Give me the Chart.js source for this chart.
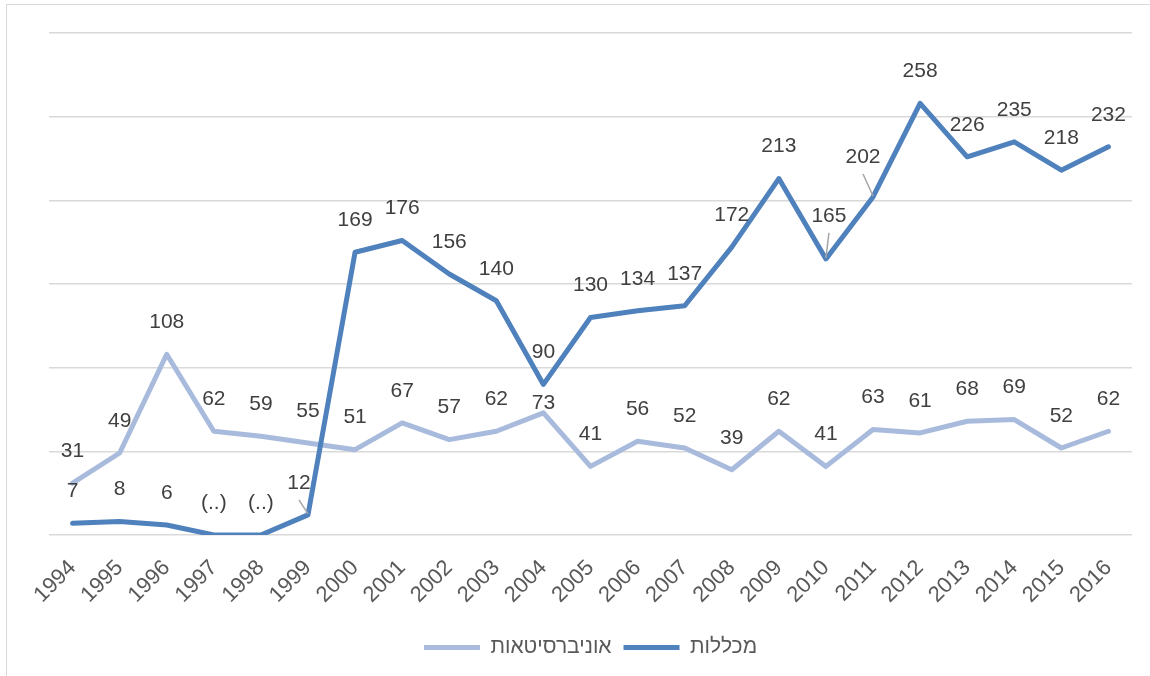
<!DOCTYPE html>
<html lang="he">
<head>
  <meta charset="UTF-8">
  <title>מכללות ואוניברסיטאות</title>
  <script src="https://cdn.jsdelivr.net/npm/chart.js"></script>
  <style>
    body { margin: 0; background: #fff; }
    #wrap { width: 1150px; height: 676px; }
  </style>
</head>
<body>
  <div id="wrap"><canvas id="lineChart"></canvas></div>
  <script>
    const years = ['1994', '1995', '1996', '1997', '1998', '1999', '2000', '2001', '2002', '2003', '2004', '2005',
                   '2006', '2007', '2008', '2009', '2010', '2011', '2012', '2013', '2014', '2015', '2016'];
    const universities = [31, 49, 108, 62, 59, 55, 51, 67, 57, 62, 73, 41, 56, 52, 39, 62, 41, 63, 61, 68, 69, 52, 62];
    const colleges = [7, 8, 6, 0, 0, 12, 169, 176, 156, 140, 90, 130, 134, 137, 172, 213, 165, 202, 258, 226, 235, 218, 232];
    const missingYears = ['1997', '1998'];   // shown as "(..)" in the source
    const yTicks = [0, 50, 100, 150, 200, 250, 300];

    const FONT = '"Liberation Sans", "DejaVu Sans", sans-serif';

    // labels that were moved by hand in the original, [dx, dy] from the point
    const labelShift = {
      'col:1999': [-9, -32],
      'col:2010': [3, -43],
      'col:2011': [-10, -40],
      'uni:2004': [0, -10]
    };
    const leaderLines = ['col:1999', 'col:2010', 'col:2011'];

    const valueLabels = {
      id: 'valueLabels',
      afterDatasetsDraw(chart) {
        const ctx = chart.ctx;
        ctx.save();
        ctx.font = '21px ' + FONT;
        ctx.textAlign = 'center';
        ctx.textBaseline = 'middle';
        chart.data.datasets.forEach((ds, di) => {
          const meta = chart.getDatasetMeta(di);
          meta.data.forEach((pt, i) => {
            const key = ds.key + ':' + years[i];
            const s = labelShift[key] || [0, -32];
            const lx = pt.x + s[0], ly = pt.y + s[1];
            if (leaderLines.includes(key)) {
              ctx.strokeStyle = '#a6a6a6';
              ctx.lineWidth = 1.5;
              ctx.beginPath();
              ctx.moveTo(lx, ly + 17);
              ctx.lineTo(pt.x, pt.y - 1);
              ctx.stroke();
            }
            let txt = String(ds.data[i]);
            if (ds.key === 'col' && missingYears.includes(years[i])) txt = '(..)';
            ctx.fillStyle = '#404040';
            ctx.fillText(txt, lx, ly);
          });
        });
        ctx.restore();
      }
    };

    const frame = {
      id: 'frame',
      beforeDraw(chart) {
        const ctx = chart.ctx;
        ctx.save();
        ctx.strokeStyle = '#d9d9d9';
        ctx.lineWidth = 1;
        ctx.strokeRect(6.5, 4.5, 1200, 700);
        ctx.restore();
      }
    };

    const ctx = document.getElementById('lineChart').getContext('2d');
    new Chart(ctx, {
      type: 'line',
      data: {
        labels: years,
        datasets: [
          {
            key: 'col',
            label: 'מכללות',
            data: colleges,
            borderColor: '#4f81bd',
            backgroundColor: '#4f81bd',
            borderWidth: 5,
            borderCapStyle: 'round',
            borderJoinStyle: 'round',
            pointRadius: 0,
            tension: 0
          },
          {
            key: 'uni',
            label: 'אוניברסיטאות',
            data: universities,
            borderColor: '#a9bbdc',
            backgroundColor: '#a9bbdc',
            borderWidth: 5,
            borderCapStyle: 'round',
            borderJoinStyle: 'round',
            pointRadius: 0,
            tension: 0
          }
        ]
      },
      options: {
        responsive: true,
        maintainAspectRatio: false,
        animation: false,
        layout: { padding: { left: 49, right: 18, top: 33, bottom: 8 } },
        plugins: {
          tooltip: { enabled: false },
          legend: {
            position: 'bottom',
            reverse: true,
            labels: {
              usePointStyle: true,
              pointStyle: 'line',
              pointStyleWidth: 56,
              color: '#595959',
              font: { size: 21, family: FONT },
              padding: 12
            }
          }
        },
        scales: {
          x: {
            offset: true,
            grid: { display: false },
            border: { display: false },
            ticks: {
              autoSkip: false,
              maxRotation: 45,
              minRotation: 45,
              padding: 12,
              color: '#595959',
              font: { size: 22, family: FONT }
            },
            afterFit(scale) { scale.height = 90; }
          },
          y: {
            min: 0,
            max: 300,
            afterBuildTicks(scale) { scale.ticks = yTicks.map(v => ({ value: v })); },
            grid: { color: '#d9d9d9', lineWidth: 1.5, drawTicks: false },
            border: { display: false },
            ticks: { display: false },
            afterFit(scale) { scale.width = 0; }
          }
        }
      },
      plugins: [frame, valueLabels]
    });
  </script>
</body>
</html>
